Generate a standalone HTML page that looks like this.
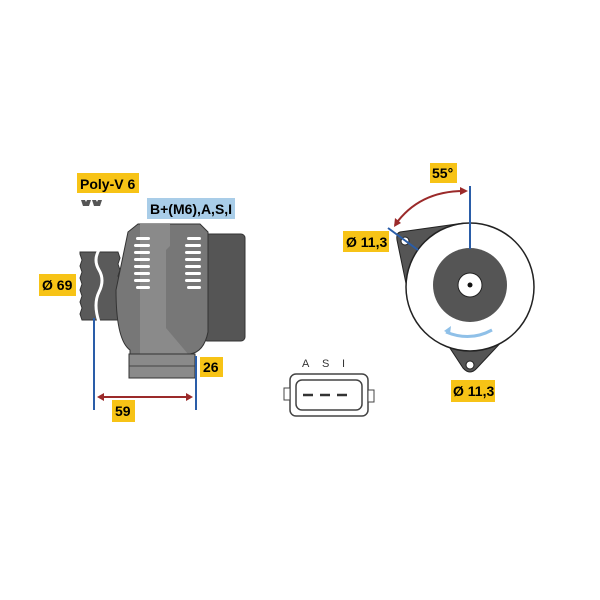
<!DOCTYPE html>
<html><head><style>body{margin:0;background:#fff}svg{display:block}</style></head><body>
<svg width="600" height="600" viewBox="0 0 600 600" xmlns="http://www.w3.org/2000/svg" font-family="Liberation Sans, sans-serif" font-weight="bold">
<rect width="600" height="600" fill="#fff"/>
<rect x="77" y="173" width="62" height="20" fill="#f7c316"/>
<text x="80" y="189" font-size="14">Poly-V 6</text>
<path d="M81 200h4l1 2 1-2h4l-1 3-1 3h-6z M92 200h4l1 2 1-2h4l-1 3-1 3h-6z" fill="#555"/>
<rect x="147" y="198" width="88" height="21" fill="#a9cde8"/>
<text x="150" y="214" font-size="14">B+(M6),A,S,I</text>
<rect x="39" y="274" width="37" height="22" fill="#f7c316"/>
<text x="42" y="290" font-size="14">Ø 69</text>
<path d="M80 252h38l2 6-2 6 2 6-2 6 2 6-2 6 2 6-2 6 2 6-2 6 2 8h-38l-2-6 2-6-2-6 2-6-2-6 2-6-2-6 2-6-2-6 2-6-2-6z" fill="#5a5a5a" stroke="#333"/>
<path d="M99 250q-6 10 0 20q6 10 0 22q-6 12 0 30" stroke="#fff" stroke-width="3" fill="none"/>
<rect x="120" y="268" width="6" height="32" fill="#666"/>
<rect x="203" y="234" width="42" height="107" rx="4" fill="#555" stroke="#333"/>
<path d="M128 232l10-8h62l8 8v100q-4 20-18 22l-4 10h-56v-14q-14-10-14-60z" fill="#777" stroke="#333"/>
<path d="M140 224h30v22l-4 4v78l22 26v12h-48z" fill="#8a8a8a"/>
<rect x="129" y="354" width="66" height="24" fill="#8a8a8a" stroke="#333"/>
<line x1="129" y1="366" x2="195" y2="366" stroke="#444"/>
<g fill="#fff">
<rect x="136" y="237" width="14" height="3" rx="1.5"/><rect x="134" y="244" width="16" height="3" rx="1.5"/><rect x="134" y="251" width="16" height="3" rx="1.5"/><rect x="134" y="258" width="16" height="3" rx="1.5"/><rect x="134" y="265" width="16" height="3" rx="1.5"/><rect x="134" y="272" width="16" height="3" rx="1.5"/><rect x="134" y="279" width="16" height="3" rx="1.5"/><rect x="136" y="286" width="14" height="3" rx="1.5"/>
<rect x="187" y="237" width="14" height="3" rx="1.5"/><rect x="185" y="244" width="16" height="3" rx="1.5"/><rect x="185" y="251" width="16" height="3" rx="1.5"/><rect x="185" y="258" width="16" height="3" rx="1.5"/><rect x="185" y="265" width="16" height="3" rx="1.5"/><rect x="185" y="272" width="16" height="3" rx="1.5"/><rect x="185" y="279" width="16" height="3" rx="1.5"/><rect x="187" y="286" width="14" height="3" rx="1.5"/>
</g>
<line x1="94" y1="318" x2="94" y2="410" stroke="#2a5da8" stroke-width="2"/>
<line x1="196" y1="356" x2="196" y2="410" stroke="#2a5da8" stroke-width="2"/>
<line x1="100" y1="397" x2="190" y2="397" stroke="#9b2a2a" stroke-width="2"/>
<path d="M97 397l7-4v8z M193 397l-7-4v8z" fill="#9b2a2a"/>
<rect x="200" y="357" width="23" height="20" fill="#f7c316"/>
<text x="203" y="372" font-size="14">26</text>
<rect x="112" y="400" width="23" height="22" fill="#f7c316"/>
<text x="115" y="416" font-size="14">59</text>
<text x="302" y="367" font-size="11" font-weight="normal" fill="#333">A</text>
<text x="322" y="367" font-size="11" font-weight="normal" fill="#333">S</text>
<text x="342" y="367" font-size="11" font-weight="normal" fill="#333">I</text>
<rect x="290" y="374" width="78" height="42" rx="6" fill="#fff" stroke="#444" stroke-width="1.5"/>
<rect x="296" y="380" width="66" height="30" rx="6" fill="#fff" stroke="#444" stroke-width="1.5"/>
<rect x="284" y="388" width="6" height="12" fill="#fff" stroke="#444"/>
<rect x="368" y="390" width="6" height="12" fill="#fff" stroke="#444"/>
<g stroke="#333" stroke-width="2.5"><line x1="303" y1="395" x2="313" y2="395"/><line x1="320" y1="395" x2="330" y2="395"/><line x1="337" y1="395" x2="347" y2="395"/></g>
<!-- lugs -->
<path d="M400 232 Q396 233 397 240 L409 298 L470 286 L464 223 Z" fill="#555" stroke="#222" stroke-linejoin="round"/>
<path d="M442 336 L463 368 Q470 376 477 368 L507 336 Z" fill="#555" stroke="#222" stroke-linejoin="round"/>
<circle cx="405" cy="241" r="4" fill="#fff" stroke="#222"/>
<circle cx="470" cy="287" r="64" fill="#fff" stroke="#222" stroke-width="1.5"/>
<circle cx="470" cy="365" r="4" fill="#fff" stroke="#222"/>
<circle cx="470" cy="285" r="37" fill="#555"/>
<circle cx="470" cy="285" r="12" fill="#fff" stroke="#222"/>
<circle cx="470" cy="285" r="2.5" fill="#111"/>
<path d="M492 330q-22 12-46 2" stroke="#8fc0e8" stroke-width="3" fill="none"/>
<path d="M444 331l7-5 -1 8z" fill="#8fc0e8"/>
<line x1="470" y1="186" x2="470" y2="249" stroke="#2a5da8" stroke-width="2"/>
<line x1="388" y1="228" x2="418" y2="250" stroke="#2a5da8" stroke-width="2"/>
<path d="M464 191q-45 0-69 34" stroke="#9b2a2a" stroke-width="2" fill="none"/>
<path d="M468 191l-8-4v8z M394 227l1-9 6 5z" fill="#9b2a2a"/>
<rect x="430" y="163" width="27" height="20" fill="#f7c316"/>
<text x="432" y="178" font-size="14">55°</text>
<rect x="343" y="231" width="46" height="21" fill="#f7c316"/>
<text x="346" y="247" font-size="14">Ø 11,3</text>
<rect x="451" y="380" width="44" height="22" fill="#f7c316"/>
<text x="453" y="396" font-size="14">Ø 11,3</text>
</svg>
</body></html>
